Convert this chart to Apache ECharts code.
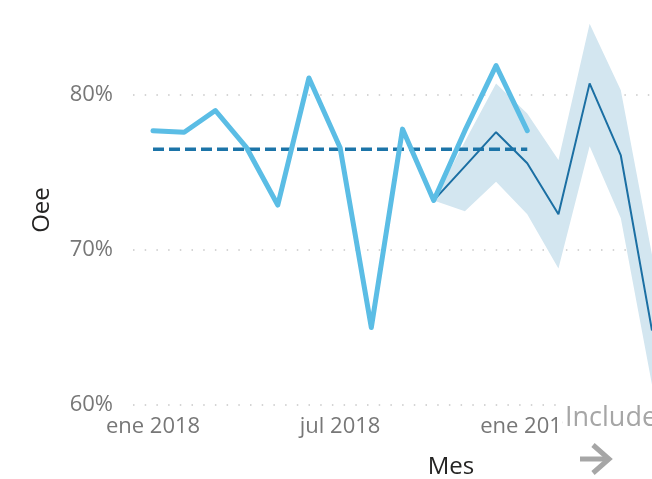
<!DOCTYPE html>
<html><head><meta charset="utf-8">
<script src="https://cdn.jsdelivr.net/npm/echarts@6/dist/echarts.min.js"></script>
<style>html,body{margin:0;padding:0;background:#fff}#c{width:652px;height:479px}</style>
</head><body><div id="c"></div>
<script>
const meses = ['ene 2018','feb 2018','mar 2018','abr 2018','may 2018','jun 2018','jul 2018','ago 2018','sep 2018','oct 2018','nov 2018','dic 2018','ene 2019','feb 2019','mar 2019','abr 2019','may 2019'];
const oeeReal = [77.7, 77.6, 79.0, 76.6, 72.9, 81.1, 76.6, 65.0, 77.8, 73.2, 77.7, 81.9, 77.7];
const oeePromedio = [76.5, 76.5, 76.5, 76.5, 76.5, 76.5, 76.5, 76.5, 76.5, 76.5, 76.5, 76.5, 76.5];
const pronostico = ['-', '-', '-', '-', '-', '-', '-', '-', '-', 73.2, 75.4, 77.6, 75.6, 72.3, 80.75, 76.1, 64.8];
const limiteInferior = ['-', '-', '-', '-', '-', '-', '-', '-', '-', 73.2, 72.5, 74.4, 72.3, 68.8, 76.7, 72.05, 61.3];
const limiteSuperior = ['-', '-', '-', '-', '-', '-', '-', '-', '-', 73.2, 77.0, 80.75, 78.8, 75.8, 84.6, 80.3, 69.7];
const yTicks = [60, 70, 80];

const FONT = '"Segoe UI", "Open Sans", sans-serif';
const bandaAncho = limiteSuperior.map((u, i) => (u === '-' ? '-' : +(u - limiteInferior[i]).toFixed(2)));

const chart = echarts.init(document.getElementById('c'), null, { renderer: 'canvas' });
chart.setOption({
  animation: false,
  backgroundColor: '#ffffff',
  grid: [
    { left: 133, right: 0, top: 17.5, bottom: 74, containLabel: false },
    { left: 153, right: -1, top: 17.5, bottom: 74, containLabel: false }
  ],
  xAxis: [
    { type: 'value', gridIndex: 0, show: false, min: 0, max: 1 },
    {
      type: 'category', gridIndex: 1, data: meses, boundaryGap: false,
      axisLine: { show: false }, axisTick: { show: false },
      axisLabel: { interval: 5, color: '#777777', fontSize: 22, fontFamily: FONT, margin: 11 },
      splitLine: { show: false }
    }
  ],
  yAxis: [
    {
      type: 'value', gridIndex: 0, min: 60, max: 85, interval: 10,
      axisLine: { show: false }, axisTick: { show: false },
      axisLabel: {
        color: '#777777', fontSize: 22, fontFamily: FONT, margin: 20, showMaxLabel: false,
        formatter: v => (yTicks.indexOf(v) >= 0 ? v + '%' : '')
      },
      splitLine: { show: true, showMaxLine: false, lineStyle: { color: '#C8C8C8', width: 1.5, type: [1.5, 10.2] } }
    },
    { type: 'value', gridIndex: 1, min: 60, max: 85, show: false }
  ],
  series: [
    {
      name: 'Límite inferior', type: 'line', xAxisIndex: 1, yAxisIndex: 1,
      data: limiteInferior, stack: 'banda', symbol: 'none',
      lineStyle: { opacity: 0 }, silent: true, z: 1
    },
    {
      name: 'Intervalo de confianza', type: 'line', xAxisIndex: 1, yAxisIndex: 1,
      data: bandaAncho, stack: 'banda', symbol: 'none',
      lineStyle: { opacity: 0 }, areaStyle: { color: '#D3E6F0', opacity: 1 }, silent: true, z: 1
    },
    {
      name: 'Pronóstico', type: 'line', xAxisIndex: 1, yAxisIndex: 1,
      data: pronostico, symbol: 'none',
      lineStyle: { color: '#1B6FA3', width: 2 }, z: 3
    },
    {
      name: 'Promedio', type: 'line', xAxisIndex: 1, yAxisIndex: 1,
      data: oeePromedio, symbol: 'none',
      lineStyle: { color: '#1C74A8', width: 3.5, type: [11, 5] }, z: 4
    },
    {
      name: 'Oee', type: 'line', xAxisIndex: 1, yAxisIndex: 1,
      data: oeeReal, symbol: 'none',
      lineStyle: { color: '#5BBDE5', width: 5, join: 'round', cap: 'round' }, z: 5
    }
  ],
  graphic: [
    { type: 'text', x: 42, y: 210, rotation: Math.PI / 2, z: 50,
      style: { text: 'Oee', fill: '#252423', font: '24px ' + FONT, align: 'center', verticalAlign: 'middle' } },
    { type: 'text', x: 451, y: 467, z: 50,
      style: { text: 'Mes', fill: '#252423', font: '24px ' + FONT, align: 'center', verticalAlign: 'middle' } },
    { type: 'rect', shape: { x: 563, y: 400, width: 100, height: 80 }, z: 100, style: { fill: '#ffffff' } },
    { type: 'text', x: 565, y: 418, z: 101,
      style: { text: 'Include', fill: '#A6A6A6', font: '27px ' + FONT, align: 'left', verticalAlign: 'middle' } },
    { type: 'polyline', z: 101, shape: { points: [[580, 459], [609, 459]] },
      style: { stroke: '#A6A6A6', lineWidth: 5, fill: null } },
    { type: 'polyline', z: 101, shape: { points: [[593, 445], [609, 459], [593, 473]] },
      style: { stroke: '#A6A6A6', lineWidth: 5, fill: null } }
  ]
});
</script>
</body></html>
